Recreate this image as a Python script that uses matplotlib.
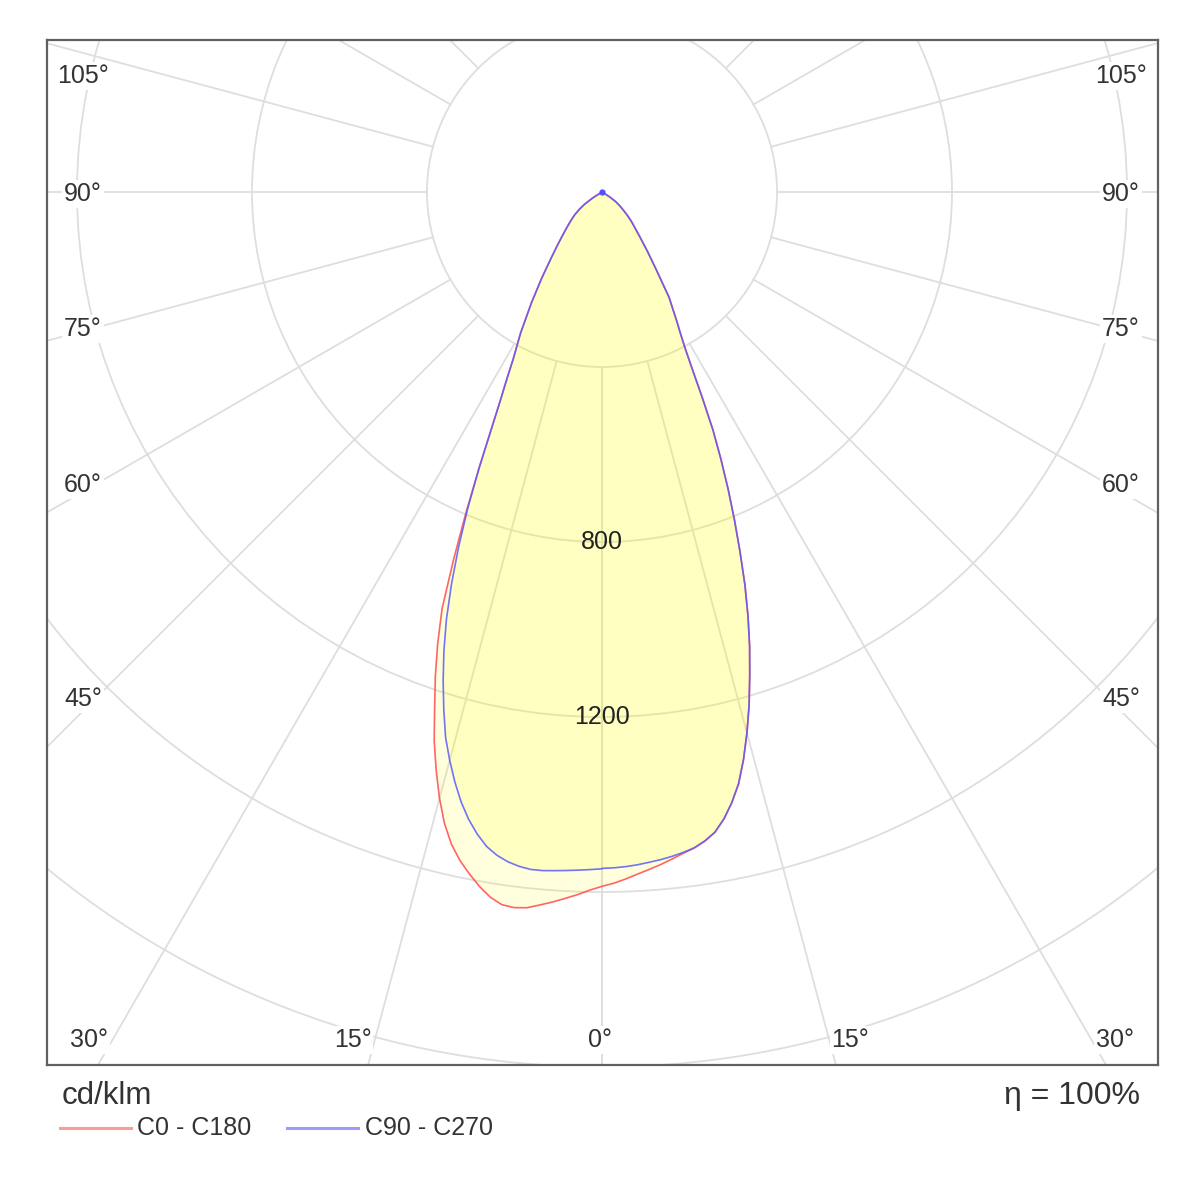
import numpy as np
import matplotlib
matplotlib.use("Agg")
import matplotlib.pyplot as plt
from matplotlib.patches import Circle
from matplotlib.lines import Line2D

# polar intensity data, cd/klm, gamma measured from nadir (0 = straight down)
gamma = [0, 1, 2, 3, 4, 5, 6, 7, 8, 9, 10, 11, 12, 13, 14, 15, 16, 17, 18, 19,
         20, 21, 22, 23, 24, 25, 26, 27, 28, 29, 30,
         32.5, 35, 37.5, 40, 42.5, 45, 47.5, 50, 52.5, 55, 57.5, 60]

c0 = [1587, 1580, 1571, 1561, 1552, 1543, 1533, 1523, 1514, 1502,
      1486, 1460, 1427, 1388, 1337, 1280, 1220, 1155, 1092, 1025,
      955, 880, 808, 738, 668, 600, 523, 455, 405, 370, 343,
      285, 215, 170, 136, 112, 95, 78, 62, 50, 38, 20, 0]
c180 = [1587, 1596, 1607, 1617, 1627, 1636, 1645, 1648, 1645, 1632,
        1612, 1588, 1562, 1530, 1488, 1435, 1375, 1312, 1238, 1170,
        1098, 1020, 905, 795, 692, 600, 530, 478, 432, 400, 372,
        300, 240, 192, 158, 132, 112, 96, 82, 66, 48, 25, 0]
c90 = [1546, 1545, 1543, 1540, 1536, 1532, 1527, 1521, 1514, 1502,
       1486, 1460, 1427, 1388, 1337, 1280, 1220, 1155, 1092, 1025,
       955, 880, 808, 738, 668, 600, 523, 455, 405, 370, 343,
       285, 215, 170, 136, 112, 95, 78, 62, 50, 38, 20, 0]
c270 = [1547, 1549, 1551, 1553, 1555, 1557, 1557, 1553, 1546, 1535,
        1519, 1495, 1466, 1431, 1390, 1345, 1297, 1237, 1175, 1110,
        1040, 960, 875, 785, 690, 600, 530, 478, 432, 400, 372,
        300, 240, 192, 158, 132, 112, 96, 82, 66, 48, 25, 0]

ring_values = [400, 800, 1200, 1600, 2000]
ring_labels = [800, 1200]
spoke_angles = [0, 15, 30, 45, 60, 75, 90, 105, 120, 135, 150, 165, 180]

# angle labels: (text, x, y) in cd units
angle_labels = [
    ("105°", -1186, 265), ("90°", -1186, -4), ("75°", -1186, -313),
    ("60°", -1186, -669), ("45°", -1186, -1158),
    ("105°", 1186, 265), ("90°", 1186, -4), ("75°", 1186, -313),
    ("60°", 1186, -669), ("45°", 1186, -1158),
    ("30°", -1173, -1938), ("15°", -570, -1938), ("0°", -4, -1938),
    ("15°", 568, -1938), ("30°", 1173, -1938),
]

NARROW = ["Liberation Sans Narrow", "Liberation Sans", "DejaVu Sans"]
REGULAR = ["Liberation Sans", "DejaVu Sans"]


def to_xy(left, right):
    g = np.radians(np.array(gamma))
    left = np.array(left, dtype=float)
    right = np.array(right, dtype=float)
    x = np.concatenate([-left[::-1] * np.sin(g[::-1]), right * np.sin(g)])
    y = np.concatenate([-left[::-1] * np.cos(g[::-1]), -right * np.cos(g)])
    return x, y


fig = plt.figure(figsize=(12, 12), dpi=100)
ax = fig.add_axes([47 / 1200, 1 - 1065 / 1200, 1111 / 1200, 1025 / 1200])
s = 400 / 175
ax.set_xlim((47 - 602) * s, (1158 - 602) * s)
ax.set_ylim(-(1065 - 192) * s, (192 - 40) * s)
ax.set_xticks([])
ax.set_yticks([])
for sp in ax.spines.values():
    sp.set_color("#606060")
    sp.set_linewidth(1.6)

grid_col = "#dedede"
for r in ring_values:
    ax.add_patch(Circle((0, 0), r, fill=False, ec=grid_col, lw=1.3, zorder=1))
for a in spoke_angles:
    t = np.radians(a)
    for sgn in (-1, 1):
        ax.plot([sgn * 400 * np.sin(t), sgn * 4000 * np.sin(t)],
                [-400 * np.cos(t), -4000 * np.cos(t)],
                color=grid_col, lw=1.3, zorder=1)

xr, yr = to_xy(c180, c0)
xb, yb = to_xy(c270, c90)
ax.fill(xr, yr, color="#ffff00", alpha=0.13, lw=0, zorder=2)
ax.fill(xb, yb, color="#ffff00", alpha=0.13, lw=0, zorder=2)
ax.plot(xr, yr, color="#ff4a4a", lw=1.2, alpha=0.85, zorder=3,
        solid_joinstyle="round")
ax.plot(xb, yb, color="#5a5aff", lw=1.2, alpha=0.85, zorder=4,
        solid_joinstyle="round")
ax.plot(xb[:1], yb[:1], "o", color="#5050ff", ms=3.5, zorder=5)

for v in ring_labels:
    ax.text(0, -v, str(v), ha="center", va="center", fontsize=18,
            family=NARROW, color="#222222", zorder=5)

for txt, x, y in angle_labels:
    ax.text(x, y, txt, ha="center", va="center", fontsize=18, family=NARROW,
            color="#333333", zorder=5,
            bbox=dict(facecolor="white", edgecolor="none", pad=1.5))

fig.text(62 / 1200, 1 - 1096 / 1200, "cd/klm", fontsize=22.5, family=REGULAR,
         color="#333333", va="center", ha="left")
fig.text(1140 / 1200, 1 - 1096 / 1200, "η = 100%", fontsize=23, family=REGULAR,
         color="#333333", va="center", ha="right")

# legend keys
y_leg = 1 - 1128 / 1200
fig.add_artist(Line2D([60 / 1200, 131 / 1200], [y_leg, y_leg], color="#ff9a9a", lw=2.2))
fig.text(137 / 1200, y_leg, "C0 - C180", fontsize=18, family=NARROW,
         color="#333333", va="center", ha="left")
fig.add_artist(Line2D([287 / 1200, 358 / 1200], [y_leg, y_leg], color="#9a9aff", lw=2.2))
fig.text(365 / 1200, y_leg, "C90 - C270", fontsize=18, family=NARROW,
         color="#333333", va="center", ha="left")

fig.savefig("out.png", dpi=100, facecolor="white")
